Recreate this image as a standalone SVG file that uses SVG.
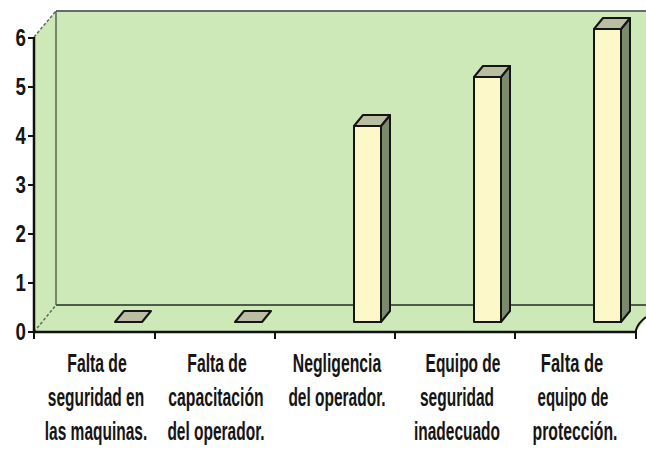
<svg xmlns="http://www.w3.org/2000/svg" width="646" height="449" viewBox="0 0 646 449">
<style>
.wall{fill:#cde9b8;stroke:none}
.front{fill:#fdf8c8;stroke:#151515;stroke-width:2;stroke-linejoin:round}
.side{fill:#7a8a6c;stroke:#151515;stroke-width:2;stroke-linejoin:round}
.top{fill:#b9bea2;stroke:#151515;stroke-width:2;stroke-linejoin:round}
.ax{stroke:#111;stroke-width:2.5;fill:none}
.tick{stroke:#111;stroke-width:2;fill:none}
.yl{font-family:"Liberation Sans",Arial,sans-serif;font-size:24px;font-weight:bold;fill:#151515;text-anchor:end}
.xl{font-family:"Liberation Sans",Arial,sans-serif;font-size:25px;font-weight:bold;fill:#151515;text-anchor:middle}
</style>
<rect width="646" height="449" fill="#ffffff"/>
<g id="plot-area">
<rect class="wall" x="56" y="11" width="590" height="294"/>
<polygon class="wall" points="34,37 56,11 56,305 34,332"/>
<polygon class="wall" points="34,332 56,305 646,305 646,318 636,332"/>
<line x1="56" y1="11" x2="646" y2="11" stroke="#6a6a6a" stroke-width="2"/>
<line x1="56" y1="11" x2="56" y2="305" stroke="#5a6656" stroke-width="1.5"/>
<line x1="56" y1="305" x2="646" y2="305" stroke="#4e5e4a" stroke-width="2.2"/>
<line x1="34" y1="37" x2="56" y2="11" stroke="#5d6b58" stroke-width="1.5" stroke-dasharray="3,2"/>
<line x1="34" y1="332" x2="56" y2="305" stroke="#5d6b58" stroke-width="1.5" stroke-dasharray="3,2"/>
</g>
<g id="connectors">
<line class="ax" x1="34" y1="37" x2="34" y2="333"/>
<line class="ax" x1="33" y1="332" x2="636" y2="332"/>
<path class="tick" d="M636,339 L636,330 Q638,323 646,317"/>
<path class="tick" d="M28,38 H34 M28,87 H34 M28,136 H34 M28,185 H34 M28,234 H34 M28,283 H34 M28,332 H34"/>
<path class="tick" d="M34,332 V339 M155,332 V339 M275,332 V339 M395,332 V339 M515,332 V339"/>
</g>
<g id="y-labels">
<text class="yl" transform="translate(26,46) scale(0.78,1)">6</text>
<text class="yl" transform="translate(26,95) scale(0.78,1)">5</text>
<text class="yl" transform="translate(26,144) scale(0.78,1)">4</text>
<text class="yl" transform="translate(26,193) scale(0.78,1)">3</text>
<text class="yl" transform="translate(26,242) scale(0.78,1)">2</text>
<text class="yl" transform="translate(26,291) scale(0.78,1)">1</text>
<text class="yl" transform="translate(26,340) scale(0.78,1)">0</text>
</g>
<g id="bar-1">
<polygon class="top" points="115,322 142,322 151,311 124,311"/>
<text class="xl" transform="translate(97,372) scale(0.63,1)">Falta de</text>
<text class="xl" transform="translate(96,406) scale(0.62,1)">seguridad en</text>
<text class="xl" transform="translate(96,440) scale(0.62,1)">las maquinas.</text>
</g>
<g id="bar-2">
<polygon class="top" points="235,322 262,322 271,311 244,311"/>
<text class="xl" transform="translate(217,372) scale(0.63,1)">Falta de</text>
<text class="xl" transform="translate(216,406) scale(0.63,1)">capacitación</text>
<text class="xl" transform="translate(216,440) scale(0.62,1)">del operador.</text>
</g>
<g id="bar-3">
<polygon class="side" points="381,322 390,311 390,115 381,126"/>
<polygon class="top" points="354,126 381,126 390,115 363,115"/>
<rect class="front" x="354" y="126" width="27" height="196"/>
<text class="xl" transform="translate(337,372) scale(0.63,1)">Negligencia</text>
<text class="xl" transform="translate(337,406) scale(0.62,1)">del operador.</text>
</g>
<g id="bar-4">
<polygon class="side" points="501,322 510,311 510,66 501,77"/>
<polygon class="top" points="474,77 501,77 510,66 483,66"/>
<rect class="front" x="474" y="77" width="27" height="245"/>
<text class="xl" transform="translate(463,372) scale(0.62,1)">Equipo de</text>
<text class="xl" transform="translate(457,406) scale(0.62,1)">seguridad</text>
<text class="xl" transform="translate(457,440) scale(0.62,1)">inadecuado</text>
</g>
<g id="bar-5">
<polygon class="side" points="621,322 630,311 630,18 621,29"/>
<polygon class="top" points="594,29 621,29 630,18 603,18"/>
<rect class="front" x="594" y="29" width="27" height="293"/>
<text class="xl" transform="translate(572,372) scale(0.66,1)">Falta de</text>
<text class="xl" transform="translate(573,406) scale(0.6,1)">equipo de</text>
<text class="xl" transform="translate(575,440) scale(0.63,1)">protección.</text>
</g>
</svg>
